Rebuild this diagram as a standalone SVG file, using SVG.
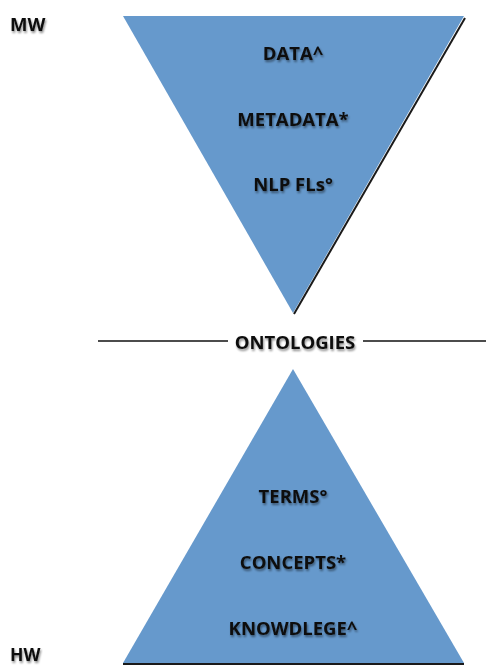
<svg xmlns="http://www.w3.org/2000/svg" width="486" height="667" viewBox="0 0 486 667">
<defs>
<filter id="sh" x="-20%" y="-30%" width="140%" height="180%">
<feGaussianBlur in="SourceAlpha" stdDeviation="1.3"/>
<feOffset dx="1" dy="2" result="b"/>
<feComponentTransfer><feFuncA type="linear" slope="0.45"/></feComponentTransfer>
<feMerge><feMergeNode/><feMergeNode in="SourceGraphic"/></feMerge>
</filter>
</defs>
<style>
text{font-family:"Open Sans","Liberation Sans",sans-serif;font-weight:bold;fill:#111;filter:url(#sh);font-size:18.5px}
.c{text-anchor:middle}
.tri{fill:#6699cc}
.edge{stroke:#1a1a1a;stroke-width:2;fill:none}
</style>
<rect width="486" height="667" fill="#fff"/>
<g id="top">
<polygon class="tri" points="123,16 464,16 293,313"/>
<line class="edge" x1="465" y1="18" x2="294" y2="314"/>
<text class="c" x="293" y="60">DATA^</text>
<text class="c" x="293" y="126">METADATA*</text>
<text class="c" x="293" y="191">NLP FLs°</text>
</g>
<g id="bottom">
<polygon class="tri" points="293,369 464,663 123,663"/>
<line class="edge" x1="123" y1="664" x2="464" y2="664"/>
<text class="c" x="293" y="503">TERMS°</text>
<text class="c" x="293" y="569">CONCEPTS*</text>
<text class="c" x="293" y="635">KNOWDLEGE^</text>
</g>
<g id="connectors">
<line x1="98" y1="341" x2="228" y2="341" stroke="#111" stroke-width="1.5"/>
<line x1="363" y1="341" x2="486" y2="341" stroke="#111" stroke-width="1.5"/>
</g>
<g id="ontologies"><text class="c" x="295" y="349">ONTOLOGIES</text></g>
<g id="mw"><text x="10" y="31">MW</text></g>
<g id="hw"><text x="10" y="661" style="font-size:17.5px">HW</text></g>
</svg>
